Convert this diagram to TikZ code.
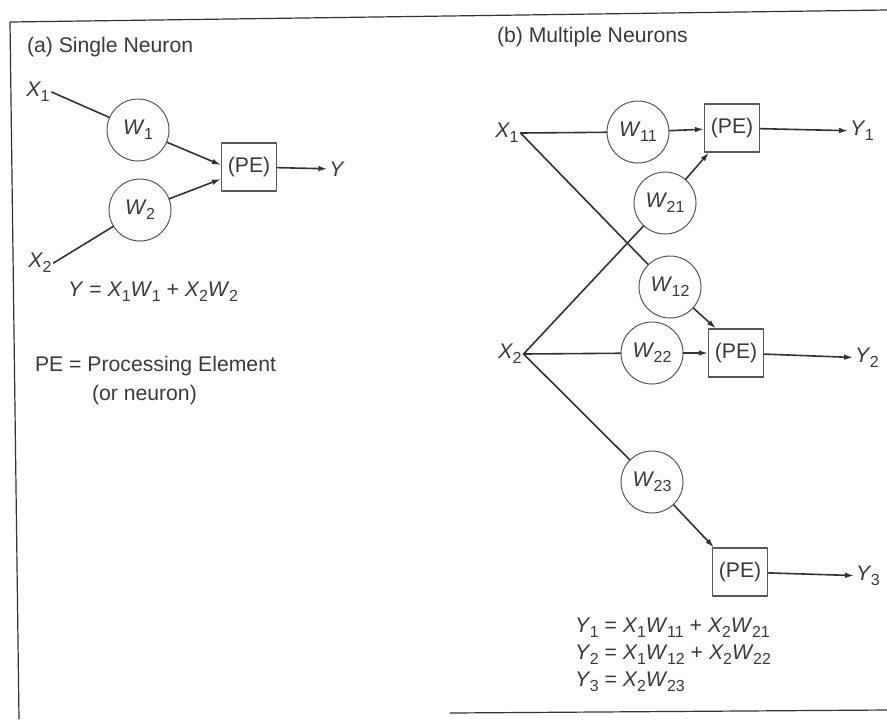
\documentclass[tikz,border=0pt]{standalone}
\usepackage{fontspec}
\setmainfont{Liberation Sans}
\usepackage{xcolor}
\usepackage{tikz}
\usetikzlibrary{arrows.meta,positioning}
\definecolor{ink}{HTML}{3A3A3A}
\definecolor{wire}{HTML}{333333}
\definecolor{rim}{HTML}{585858}
\newcommand{\vsub}[2]{\textit{#1}\kern-0.3pt\raisebox{-0.45ex}{\fontsize{8}{9}\selectfont #2}}
\tikzset{
    every picture/.style={line cap=round,line join=round},
    lbl/.style={inner sep=1pt,outer sep=0pt,text=ink},
    wcirc/.style={draw=rim,circle,fill=white,line width=0.5pt,
      minimum size=31pt,inner sep=0pt,text=ink},
    pebox/.style={draw=rim,fill=white,line width=0.6pt,
      minimum width=27.5pt,minimum height=24pt,inner sep=1pt,text=ink},
    wireline/.style={draw=wire,line width=0.8pt},
    flowarrow/.style={-{Latex[length=4.5pt,width=2.8pt]},draw=wire,
      line width=0.8pt},
    framerule/.style={draw=wire,line width=0.6pt}
}
\begin{document}
\begin{tikzpicture}[x=0.5pt,y=-0.5pt,
    font=\fontsize{10.6}{13}\selectfont]
  \useasboundingbox (0,0) rectangle (887,719);
  % frame
  \draw[framerule] (19,719) -- (10,22) -- (887,10);
  \draw[framerule] (450,713) -- (887,710);
  % (a) single neuron
  \node[lbl,anchor=west] (tita) at (25,47) {(a) Single Neuron};
  \node[lbl] (x1a) at (38,92) {\vsub{X}{1}};
  \node[lbl] (x2a) at (40,263) {\vsub{X}{2}};
  \node[wcirc] (w1a) at (138,130) {\vsub{W}{1}};
  \node[wcirc] (w2a) at (140,210) {\vsub{W}{2}};
  \node[pebox] (pea) at (249,167) {(PE)};
  \node[lbl] (ya) at (337,169) {\textit{Y}};
  \draw[wireline] (x1a.east) -- (w1a);
  \draw[wireline] (x2a.east) -- (w2a);
  \draw[flowarrow] (w1a) -- ([yshift=1pt]pea.west);
  \draw[flowarrow] (w2a) -- ([yshift=-6pt]pea.west);
  \draw[flowarrow] (pea) -- (ya);
  \node[lbl] (eqa) at (153,292)
    {\textit{Y} = \vsub{X}{1}\vsub{W}{1} + \vsub{X}{2}\vsub{W}{2}};
  \node[lbl,anchor=west] (defa) at (33,366) {PE = Processing Element};
  \node[lbl,anchor=west] (defb) at (90,395) {(or neuron)};
  % (b) multiple neurons
  \node[lbl,anchor=west] (titb) at (495,37) {(b) Multiple Neurons};
  \node[lbl] (x1b) at (507,133) {\vsub{X}{1}};
  \node[lbl] (x2b) at (510,354) {\vsub{X}{2}};
  \node[wcirc] (w11) at (638,132) {\vsub{W}{11}};
  \node[wcirc] (w21) at (665,203) {\vsub{W}{21}};
  \node[wcirc] (w12) at (670,287) {\vsub{W}{12}};
  \node[wcirc] (w22) at (652,353) {\vsub{W}{22}};
  \node[wcirc] (w23) at (652,482) {\vsub{W}{23}};
  \node[pebox] (pe1) at (732,128) {(PE)};
  \node[pebox] (pe2) at (736,353) {(PE)};
  \node[pebox] (pe3) at (740,572) {(PE)};
  \node[lbl] (y1) at (862,131) {\vsub{Y}{1}};
  \node[lbl] (y2) at (867,358) {\vsub{Y}{2}};
  \node[lbl] (y3) at (868,576) {\vsub{Y}{3}};
  \draw[wireline] (x1b.east) -- (w11);
  \draw[wireline] (x1b.east) -- (w12);
  \draw[wireline] (x2b.east) -- (w21);
  \draw[wireline] (x2b.east) -- (w22);
  \draw[wireline] (x2b.east) -- (w23);
  \draw[flowarrow] (w11) -- (pe1);
  \draw[flowarrow] (w21) -- ([xshift=2.5pt]pe1.south west);
  \draw[flowarrow] (w12) -- ([xshift=4pt]pe2.north west);
  \draw[flowarrow] (w22) -- (pe2);
  \draw[flowarrow] (w23) -- ([xshift=1pt]pe3.north west);
  \draw[flowarrow] (pe1) -- (y1);
  \draw[flowarrow] (pe2) -- (y2);
  \draw[flowarrow] (pe3) -- (y3);
  \node[lbl,anchor=west,align=left,
    font=\fontsize{10.6}{13.5}\selectfont] (eqb) at (573,655)
    {\vsub{Y}{1} = \vsub{X}{1}\vsub{W}{11} + \vsub{X}{2}\vsub{W}{21}\\
     \vsub{Y}{2} = \vsub{X}{1}\vsub{W}{12} + \vsub{X}{2}\vsub{W}{22}\\
     \vsub{Y}{3} = \vsub{X}{2}\vsub{W}{23}};
\end{tikzpicture}
\end{document}
